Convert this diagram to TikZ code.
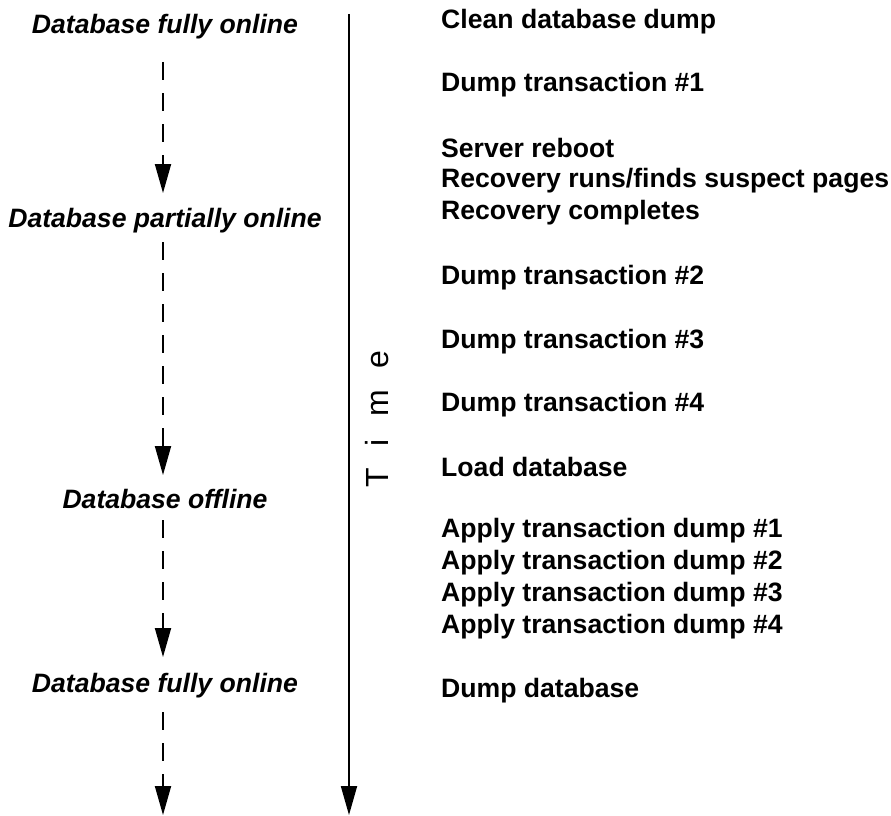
\documentclass[tikz,border=0pt]{standalone}
\usepackage{fontspec}
\setmainfont{Liberation Sans}
\usetikzlibrary{arrows.meta}
\tikzset{
  state/.style={font=\fontsize{26.6}{30}\selectfont\bfseries\itshape, inner sep=0pt},
  event/.style={font=\fontsize{26.6}{30}\selectfont\bfseries, anchor=west, inner sep=0pt},
  flow/.style={line width=1.8pt, dash pattern=on 18pt off 13pt, -{Triangle[length=29pt,width=16pt]}},
}
\begin{document}
\begin{tikzpicture}[x=1pt,y=-1pt]
    \useasboundingbox (0,0) rectangle (891,816);
    % Database states
    \node[state] (full1) at (165,27) {Database fully online};
    \node[state] (partial) at (165,221) {Database partially online};
    \node[state] (offline) at (165,499) {Database offline};
    \node[state] (full2) at (165,686) {Database fully online};
    \coordinate (p1) at (163,62);
    \coordinate (q1) at (163,193);
    \coordinate (p2) at (163,242);
    \coordinate (q2) at (163,475);
    \coordinate (p3) at (163,520);
    \coordinate (q3) at (163,657);
    \coordinate (p4) at (163,712);
    \coordinate (q4) at (163,815);
    \draw[flow] (p1) -- (q1);
    \draw[flow] (p2) -- (q2);
    \draw[flow] (p3) -- (q3);
    \draw[flow] (p4) -- (q4);

    % Time axis
    \coordinate (t0) at (349,14);
    \coordinate (t1) at (349,815);
    \draw[line width=1.8pt, -{Triangle[length=29pt,width=16pt]}] (t0) -- (t1);
    \node[rotate=90, inner sep=0pt, font=\fontsize{32}{34}\selectfont] (time) at (377,419) {T\hspace{22pt}i\hspace{22pt}m\hspace{22pt}e};

    % Events
    \node[event] (e1) at (441,22) {Clean database dump};
    \node[event] (e2) at (441,85) {Dump transaction \#1};
    \node[event] (e3) at (441,148) {Server reboot};
    \node[event] (e4) at (441,181) {Recovery runs/finds suspect pages};
    \node[event] (e5) at (441,213) {Recovery completes};
    \node[event] (e6) at (441,278) {Dump transaction \#2};
    \node[event] (e7) at (441,342) {Dump transaction \#3};
    \node[event] (e8) at (441,405) {Dump transaction \#4};
    \node[event] (e9) at (441,467) {Load database};
    \node[event] (e10) at (441,531) {Apply transaction dump \#1};
    \node[event] (e11) at (441,563) {Apply transaction dump \#2};
    \node[event] (e12) at (441,595) {Apply transaction dump \#3};
    \node[event] (e13) at (441,627) {Apply transaction dump \#4};
    \node[event] (e14) at (441,691) {Dump database};
\end{tikzpicture}
\end{document}
